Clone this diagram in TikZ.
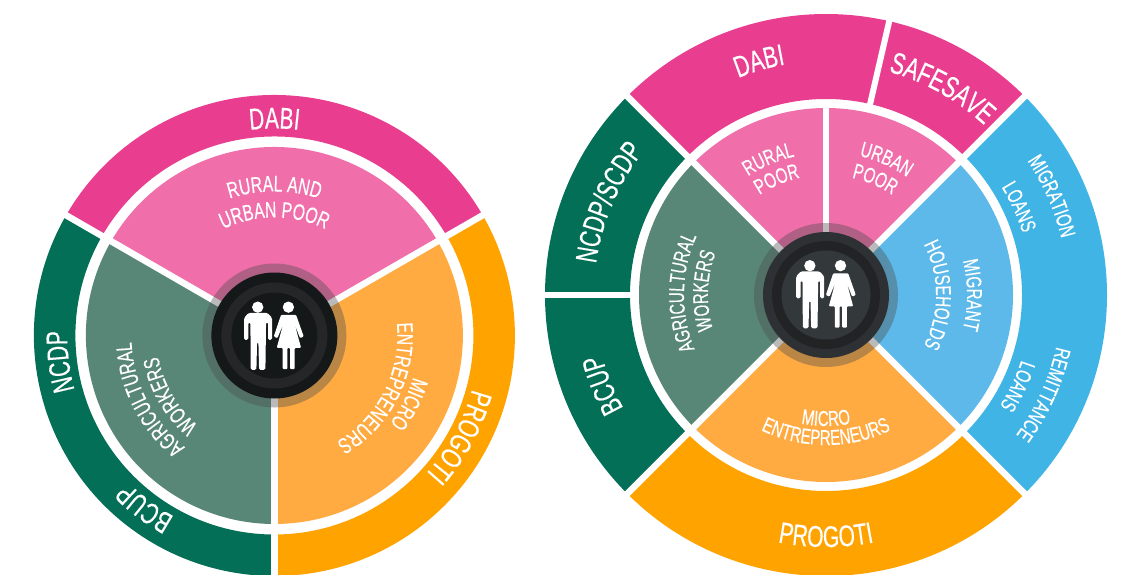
\documentclass[tikz,border=0pt]{standalone}
\usepackage{fontspec}
\setmainfont[FakeStretch=0.70,FakeBold=0.35]{Liberation Sans}
\usetikzlibrary{decorations.text}
\definecolor{pinkO}{HTML}{E93E8F}
\definecolor{pinkI}{HTML}{F06EA9}
\definecolor{greenO}{HTML}{036F57}
\definecolor{greenI}{HTML}{588777}
\definecolor{orangeO}{HTML}{FFA300}
\definecolor{orangeI}{HTML}{FFAB42}
\definecolor{blueO}{HTML}{41B4E6}
\definecolor{blueI}{HTML}{5DB9E9}
\definecolor{hubA}{HTML}{141819}
\definecolor{hubB}{HTML}{252627}
\definecolor{hubC}{HTML}{2E3134}
\definecolor{hubD}{HTML}{212325}
\definecolor{hubE}{HTML}{33383A}
\definecolor{halo}{HTML}{4B4B4B}
\tikzset{haloring/.style={fill=halo,opacity=.38}}
\newcommand{\sect}[5]{\fill[#5] (#3:#2) arc (#3:#4:#2) -- (#4:#1) arc (#4:#3:#1) -- cycle;}
\newcommand{\gap}[4]{\draw[white,line width=#4] (#1:#2) -- (#1:#3);}
\newcommand{\cwtext}[4]{\pgfmathsetmacro\sa{#2+60}\pgfmathsetmacro\ea{#2-60}
  \path[decorate,decoration={text along path,text align=center,text={|\fontsize{#3}{#3}\selectfont\color{white}|#4}}] (\sa:#1) arc (\sa:\ea:#1);}
\newcommand{\ccwtext}[4]{\pgfmathsetmacro\sa{#2-60}\pgfmathsetmacro\ea{#2+60}
  \path[decorate,decoration={text along path,text align=center,text={|\fontsize{#3}{#3}\selectfont\color{white}|#4}}] (\sa:#1) arc (\sa:\ea:#1);}
\newcommand{\people}{%
  \begin{scope}[x=0.3333pt,y=-0.3333pt,shift={(-255,-255)}]
  \fill[white] (205,170) circle[radius=17];
  \fill[white] (297,170) circle[radius=17];
  \fill[white,rounded corners=1.5pt] (164,268)--(164,202)--(178,187)--(234,187)--(248,202)--(248,268)--(236,268)--(236,215)--(230,215)--(228,358)--(209,358)--(207,275)--(203,275)--(201,358)--(184,358)--(183,215)--(177,215)--(177,268)--cycle;
  \fill[white,rounded corners=1pt] (275,193)--(320,193)--(343,258)--(332,263)--(316,222)--(335,292)--(316,292)--(316,356)--(302,356)--(302,292)--(294,292)--(294,356)--(280,356)--(280,292)--(262,292)--(281,222)--(264,263)--(253,258)--cycle;
  \end{scope}}
\begin{document}
\begin{tikzpicture}[x=1pt,y=1pt]
\useasboundingbox (0,0) rectangle (1123,574);
\fill[white] (0,0) rectangle (1123,574);
\clip (0,0) rectangle (1123,574);
% ---------- left wheel
\begin{scope}[shift={(274.4,238.5)}]
  \sect{199}{240.5}{30}{150}{pinkO}
  \sect{199}{240.5}{150}{270}{greenO}
  \sect{199}{240.5}{-90}{30}{orangeO}
  \sect{60}{188.5}{30}{150}{pinkI}
  \sect{60}{188.5}{150}{270}{greenI}
  \sect{60}{188.5}{-90}{30}{orangeI}
  \gap{30}{50}{245}{6.5}
  \gap{150}{50}{245}{6.5}
  \gap{270}{50}{245}{7}
  \fill[haloring] (0,0) circle[radius=72];
  \fill[hubA] (0,0) circle[radius=63];
  \fill[hubB] (0,0) circle[radius=53];
  \fill[hubA] (0,0) circle[radius=43];
  \people
  \cwtext{207}{90}{30}{DABI}
  \cwtext{207}{187}{30}{NCDP}
  \cwtext{207}{233}{30}{BCUP}
  \cwtext{205}{-28.7}{30}{PROGOTI}
  \cwtext{144}{90}{22.5}{RURAL AND}
  \cwtext{118}{90}{22.5}{URBAN POOR}
  \cwtext{145}{-27}{22.5}{MICRO}
  \cwtext{123}{-27}{22.5}{ENTREPRENEURS}
  \cwtext{143}{207}{22.5}{AGRICULTURAL}
  \cwtext{118}{210}{22.5}{WORKERS}
\end{scope}
% ---------- right wheel
\begin{scope}[shift={(826,279)}]
  \sect{196}{281}{45}{135}{pinkO}
  \sect{196}{281}{135}{225}{greenO}
  \sect{196}{281}{225}{315}{orangeO}
  \sect{196}{281}{-45}{45}{blueO}
  \sect{60}{187}{45}{135}{pinkI}
  \sect{60}{187}{135}{225}{greenI}
  \sect{60}{187}{225}{315}{orangeI}
  \sect{60}{187}{-45}{45}{blueI}
  \gap{45}{50}{286}{6.5}
  \gap{135}{50}{286}{6.5}
  \gap{225}{50}{286}{6.5}
  \gap{315}{50}{286}{6.5}
  \gap{90}{50}{190}{6.5}
  \gap{77}{192}{286}{6}
  \gap{180}{192}{286}{6}
  \fill[haloring] (0,0) circle[radius=72];
  \fill[hubC] (0,0) circle[radius=63];
  \fill[hubD] (0,0) circle[radius=54];
  \fill[hubE] (0,0) circle[radius=44.5];
  \begin{scope}[shift={(0.5,1)}]\people\end{scope}
  \cwtext{234}{106}{30}{DABI}
  \cwtext{232}{60.7}{30}{SAFESAVE}
  \cwtext{232}{157}{30}{NCDP/SCDP}
  \cwtext{232}{202}{30}{BCUP}
  \cwtext{242}{23.6}{21.5}{MIGRATION}
  \cwtext{206}{24.5}{21.5}{LOANS}
  \cwtext{236}{-24.5}{21.5}{REMITTANCE}
  \cwtext{206}{-25.5}{21.5}{LOANS}
  \ccwtext{252}{270}{30}{PROGOTI}
  \ccwtext{131}{270}{21.5}{MICRO}
  \ccwtext{150}{270}{21.5}{ENTREPRENEURS}
  \cwtext{142}{113}{21.5}{RURAL}
  \cwtext{120}{113}{21.5}{POOR}
  \cwtext{143}{66}{21.5}{URBAN}
  \cwtext{120}{67}{21.5}{POOR}
  \cwtext{142}{179}{21.5}{AGRICULTURAL}
  \cwtext{118}{178}{21.5}{WORKERS}
  \cwtext{141}{0}{21.5}{MIGRANT}
  \cwtext{110}{0}{21.5}{HOUSEHOLDS}
\end{scope}
\end{tikzpicture}
\end{document}
